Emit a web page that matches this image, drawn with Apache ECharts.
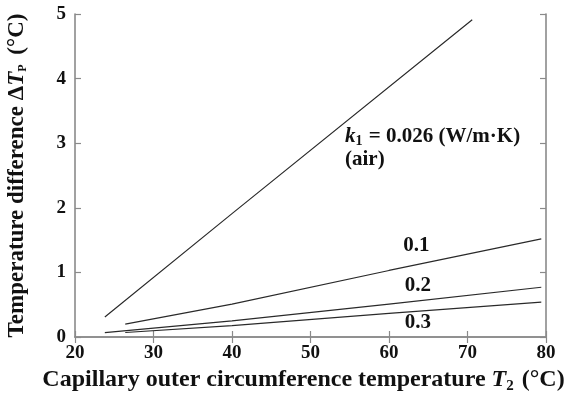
<!DOCTYPE html>
<html>
<head>
<meta charset="utf-8">
<script src="https://cdn.jsdelivr.net/npm/echarts@6/dist/echarts.min.js"></script>
<style>
  html, body { margin: 0; padding: 0; background: #fff; }
  #chart { width: 567px; height: 396px; }
</style>
</head>
<body>
<div id="chart"></div>
<script>
// curves: [T2, deltaTp]
const airLine = [[23.8, 0.31], [40, 1.91], [70.6, 4.91]];
const k01Line = [[26.4, 0.20], [40, 0.51], [60, 1.03], [79.4, 1.52]];
const k02Line = [[23.8, 0.067], [40, 0.25], [60, 0.51], [79.4, 0.77]];
const k03Line = [[26.4, 0.07], [40, 0.175], [60, 0.365], [79.4, 0.54]];

const xTicks = [20, 30, 40, 50, 60, 70, 80];
const yTicks = [0, 1, 2, 3, 4, 5];

// annotation anchors (data coords, left edge / vertical middle)
const notes = [
    {at: [54.4, 3.1], kind: "k1"},
    {at: [54.4, 2.74], text: "(air)"},
    {at: [61.8, 1.41], text: "0.1"},
    {at: [62.0, 0.79], text: "0.2"},
    {at: [62.0, 0.23], text: "0.3"}
];

const serif = "'Liberation Serif', 'DejaVu Serif', serif";
const axisGray = "#8a8a8a";
const lineColor = "#2a2a2a";

const chart = echarts.init(document.getElementById("chart"));

function lineSeries(data) {
    return {
        type: "line",
        data: data,
        showSymbol: false,
        symbol: "none",
        silent: true,
        lineStyle: {color: lineColor, width: 1.2},
        xAxisIndex: 0,
        yAxisIndex: 0
    };
}

const tickStyle = {show: true, inside: true, length: 6, lineStyle: {color: axisGray, width: 1.2}};
const lineStyleAx = {show: true, lineStyle: {color: axisGray, width: 1.6}};
const labelStyle = {color: "#111", fontFamily: serif, fontWeight: "bold", fontSize: 19};

const option = {
    animation: false,
    grid: {left: 75, right: 21, top: 14, bottom: 59, containLabel: false, outerBoundsMode: "none"},
    xAxis: [
        {
            type: "value", min: 20, max: 80, interval: 10,
            position: "bottom",
            axisLine: lineStyleAx, axisTick: tickStyle, splitLine: {show: false},
            axisLabel: Object.assign({margin: 7}, labelStyle),
            name: "{a|Capillary outer circumference temperature }{i|T}{s|2}{a| (°C)}",
            nameLocation: "middle",
            nameGap: 29,
            nameTextStyle: {
                padding: [0, 14, 0, 0],
                rich: {
                    a: {fontFamily: serif, fontWeight: "bold", fontSize: 24, color: "#111"},
                    i: {fontFamily: serif, fontWeight: "bold", fontStyle: "italic", fontSize: 24, color: "#111"},
                    s: {fontFamily: serif, fontWeight: "bold", fontSize: 15, color: "#111", verticalAlign: "bottom", padding: [12, 2, 0, 0]}
                }
            }
        },
        {
            type: "value", min: 20, max: 80, interval: 10,
            position: "top",
            axisLine: lineStyleAx, axisTick: tickStyle, splitLine: {show: false},
            axisLabel: {show: false}
        }
    ],
    yAxis: [
        {
            type: "value", min: 0, max: 5, interval: 1,
            position: "left",
            axisLine: lineStyleAx, axisTick: tickStyle, splitLine: {show: false},
            axisLabel: Object.assign({margin: 9}, labelStyle),
            name: "{a|Temperature difference Δ}{i|T}{s|P}{a| (°C)}",
            nameLocation: "middle",
            nameGap: 46,
            nameTextStyle: {
                rich: {
                    a: {fontFamily: serif, fontWeight: "bold", fontSize: 23, color: "#111"},
                    i: {fontFamily: serif, fontWeight: "bold", fontStyle: "italic", fontSize: 23, color: "#111"},
                    s: {fontFamily: serif, fontWeight: "bold", fontSize: 12, color: "#111", verticalAlign: "bottom", padding: [12, 4, 0, 0]}
                }
            }
        },
        {
            type: "value", min: 0, max: 5, interval: 1,
            position: "right",
            axisLine: lineStyleAx, axisTick: tickStyle, splitLine: {show: false},
            axisLabel: {show: false}
        }
    ],
    series: [
        lineSeries(airLine),
        lineSeries(k01Line),
        lineSeries(k02Line),
        lineSeries(k03Line)
    ]
};

chart.setOption(option);

// place the curve annotations from data coordinates
const noteRich = {
    a: {fontFamily: serif, fontWeight: "bold", fontSize: 21, fill: "#111"},
    i: {fontFamily: serif, fontWeight: "bold", fontStyle: "italic", fontSize: 21, fill: "#111"},
    s: {fontFamily: serif, fontWeight: "bold", fontSize: 14, fill: "#111", verticalAlign: "bottom", padding: [10, 1, 0, 0]}
};
const graphics = notes.map(n => {
    const p = chart.convertToPixel({gridIndex: 0}, n.at);
    const text = n.kind === "k1"
        ? "{i|k}{s|1}{a| = 0.026 (W/m·K)}"
        : "{a|" + n.text + "}";
    return {
        type: "text",
        x: p[0],
        y: p[1],
        silent: true,
        style: {
            text: text,
            rich: noteRich,
            align: "left",
            verticalAlign: "middle",
            fill: "#111"
        }
    };
});
chart.setOption({graphic: graphics});
</script>
</body>
</html>
